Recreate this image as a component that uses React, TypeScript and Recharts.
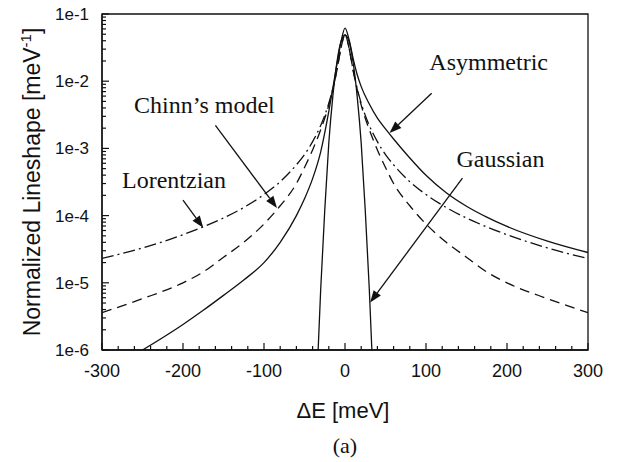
import React from 'react';
import { LineChart, Line, XAxis, YAxis, ReferenceArea, ReferenceLine } from 'recharts';

// Energy grid (meV) shared by the wide lineshapes
const energyWide = [-300, -250, -200, -175, -150, -125, -100, -80, -60, -50, -40, -30, -20, -15, -10, -5, 0, 5, 10, 15, 20, 30, 40, 50, 60, 80, 100, 125, 150, 175, 200, 250, 300];

// Lorentzian (dash-dot)
const lorentzian = [2.3e-5, 3.3e-5, 5.2e-5, 6.8e-5, 9.2e-5, 1.32e-4, 2.06e-4, 3.2e-4, 5.7e-4, 8.1e-4, 1.26e-3, 2.2e-3, 4.7e-3, 7.8e-3, 0.0146, 0.031, 0.049, 0.031, 0.0146, 7.8e-3, 4.7e-3, 2.2e-3, 1.26e-3, 8.1e-4, 5.7e-4, 3.2e-4, 2.06e-4, 1.32e-4, 9.2e-5, 6.8e-5, 5.2e-5, 3.3e-5, 2.3e-5];

// Chinn's model (dashed)
const chinn = [3.6e-6, 5.8e-6, 1.0e-5, 1.45e-5, 2.4e-5, 4.0e-5, 7.5e-5, 1.4e-4, 3.0e-4, 5.2e-4, 9.5e-4, 1.9e-3, 4.4e-3, 7.6e-3, 0.0145, 0.031, 0.049, 0.031, 0.0145, 7.6e-3, 4.4e-3, 1.9e-3, 9.5e-4, 5.2e-4, 3.0e-4, 1.4e-4, 7.5e-5, 4.0e-5, 2.4e-5, 1.45e-5, 1.0e-5, 5.8e-6, 3.6e-6];

// Asymmetric (solid)
const asymmetric = [4.5e-7, 1.0e-6, 2.4e-6, 3.9e-6, 6.5e-6, 1.1e-5, 2.0e-5, 4.0e-5, 1.0e-4, 1.78e-4, 3.55e-4, 8.9e-4, 3.55e-3, 7.9e-3, 0.0178, 0.038, 0.0617, 0.0417, 0.0219, 0.0126, 8.3e-3, 4.57e-3, 2.82e-3, 1.95e-3, 1.38e-3, 7.2e-4, 3.98e-4, 2.19e-4, 1.38e-4, 9.5e-5, 6.9e-5, 4.17e-5, 2.82e-5];

// Gaussian (solid, narrow)
const energyGauss = [-35, -30, -25, -20, -15, -10, -5, 0, 5, 10, 15, 20, 25, 30, 35];
const gaussian = [3e-7, 8e-6, 1.2e-4, 1.2e-3, 6e-3, 0.019, 0.039, 0.049, 0.039, 0.019, 6e-3, 1.2e-3, 1.2e-4, 8e-6, 3e-7];

// Axis ticks and labels
const xTicks = [-300, -200, -100, 0, 100, 200, 300];
const xTickLabels = ['-300', '-200', '-100', '0', '100', '200', '300'];
const yTicks = [1e-6, 1e-5, 1e-4, 1e-3, 1e-2, 1e-1];
const yTickLabels = ['1e-6', '1e-5', '1e-4', '1e-3', '1e-2', '1e-1'];

const zip = (xs: number[], ys: number[]) => xs.map((x, i) => ({ x, y: ys[i] }));
const lorentzData = zip(energyWide, lorentzian);
const chinnData = zip(energyWide, chinn);
const asymData = zip(energyWide, asymmetric);
const gaussData = zip(energyGauss, gaussian);

const xMinorTicks: number[] = [];
for (let v = -300; v <= 300; v += 20) xMinorTicks.push(v);
const yAllTicks: number[] = [];
for (let d = -6; d < -1; d++) {
  for (let m = 1; m < 10; m++) yAllTicks.push(Number((m * Math.pow(10, d)).toPrecision(3)));
}
yAllTicks.push(1e-1);

const INK = '#111';
const SANS = "'Liberation Sans', Arial, sans-serif";
const SERIF = "'Liberation Serif', 'Times New Roman', serif";

const renderXTick = (props: any) => {
  const { x, y, payload } = props;
  const v = payload.value;
  const idx = xTicks.indexOf(v);
  const major = idx >= 0;
  return (
    <g>
      <line x1={x} x2={x} y1={y} y2={y - (major ? 7 : 4)} stroke={INK} strokeWidth={1.2} />
      {major && (
        <text x={x} y={y + 27} textAnchor="middle" fontFamily={SANS} fontSize={18} fill={INK}>
          {xTickLabels[idx]}
        </text>
      )}
    </g>
  );
};

const renderYTick = (props: any) => {
  const { x, y, payload } = props;
  const v = payload.value;
  const idx = yTicks.findIndex((t) => Math.abs(t - v) / t < 1e-6);
  const major = idx >= 0;
  return (
    <g>
      <line x1={x} x2={x + (major ? 7 : 4)} y1={y} y2={y} stroke={INK} strokeWidth={1.2} />
      {major && (
        <text x={x - 13} y={y + 6} textAnchor="end" fontFamily={SANS} fontSize={17} fill={INK}>
          {yTickLabels[idx]}
        </text>
      )}
    </g>
  );
};

const arrowShape = (label: string, dx: number, dy: number) => (props: any) => {
  const { x1, y1, x2, y2 } = props;
  const ang = Math.atan2(y2 - y1, x2 - x1);
  const len = 12;
  const half = 4.5;
  const bx = x2 - len * Math.cos(ang);
  const by = y2 - len * Math.sin(ang);
  const px = -Math.sin(ang) * half;
  const py = Math.cos(ang) * half;
  return (
    <g>
      <line x1={x1} y1={y1} x2={bx} y2={by} stroke={INK} strokeWidth={1.3} />
      <polygon points={`${x2},${y2} ${bx + px},${by + py} ${bx - px},${by - py}`} fill={INK} />
      <text x={x1 + dx} y={y1 + dy} textAnchor="middle" fontFamily={SERIF} fontSize={24} fill={INK}>
        {label}
      </text>
    </g>
  );
};

export default function App() {
  return (
    <div style={{ position: 'absolute', left: 0, top: 0, width: 617, height: 462, background: '#fff' }}>
      <LineChart width={617} height={462} margin={{ top: 14, right: 29, bottom: 82, left: 42 }}>
        <XAxis
          type="number"
          dataKey="x"
          domain={[-300, 300]}
          allowDataOverflow
          ticks={xMinorTicks}
          interval={0}
          tickSize={0}
          tickMargin={0}
          tickLine={false}
          tick={renderXTick}
          height={30}
          axisLine={{ stroke: INK, strokeWidth: 1.3 }}
        />
        <YAxis
          type="number"
          scale="log"
          domain={[1e-6, 1e-1]}
          allowDataOverflow
          ticks={yAllTicks}
          interval={0}
          tickSize={0}
          tickMargin={0}
          tickLine={false}
          tick={renderYTick}
          width={60}
          axisLine={{ stroke: INK, strokeWidth: 1.3 }}
        />
        <ReferenceArea x1={-300} x2={300} y1={1e-6} y2={1e-1} fill="none" fillOpacity={0} stroke={INK} strokeWidth={1.3} />
        <Line data={lorentzData} dataKey="y" type="monotone" stroke={INK} strokeWidth={1.3} strokeDasharray="12 4 2 4" dot={false} activeDot={false} isAnimationActive={false} />
        <Line data={chinnData} dataKey="y" type="monotone" stroke={INK} strokeWidth={1.3} strokeDasharray="10 6" dot={false} activeDot={false} isAnimationActive={false} />
        <Line data={asymData} dataKey="y" type="monotone" stroke={INK} strokeWidth={1.3} dot={false} activeDot={false} isAnimationActive={false} />
        <Line data={gaussData} dataKey="y" type="monotone" stroke={INK} strokeWidth={1.3} dot={false} activeDot={false} isAnimationActive={false} />
        <ReferenceLine segment={[{ x: 107, y: 6.6e-3 }, { x: 55, y: 1.7e-3 }]} shape={arrowShape('Asymmetric', 57, -23)} />
        <ReferenceLine segment={[{ x: 145, y: 3.6e-4 }, { x: 31, y: 5.1e-6 }]} shape={arrowShape('Gaussian', 38, -11)} />
        <ReferenceLine segment={[{ x: -160, y: 2.2e-3 }, { x: -84, y: 1.3e-4 }]} shape={arrowShape('Chinn’s model', -11, -12)} />
        <ReferenceLine segment={[{ x: -200, y: 1.7e-4 }, { x: -175, y: 6.6e-5 }]} shape={arrowShape('Lorentzian', -9, -12)} />
      </LineChart>
      <svg width={617} height={462} style={{ position: 'absolute', left: 0, top: 0, pointerEvents: 'none' }}>
        <text x={343} y={418} textAnchor="middle" fontFamily={SANS} fontSize={22} fill={INK}>
          ΔE [meV]
        </text>
        <text x={345} y={453} textAnchor="middle" fontFamily={SERIF} fontSize={22} fill={INK}>
          (a)
        </text>
        <text
          transform="translate(40,182) rotate(-90)"
          textAnchor="middle"
          fontFamily={SANS}
          fontSize={23}
          fill={INK}
        >
          Normalized Lineshape [meV
          <tspan fontSize={15} dy={-9}>-1</tspan>
          <tspan dy={9}>]</tspan>
        </text>
      </svg>
    </div>
  );
}
